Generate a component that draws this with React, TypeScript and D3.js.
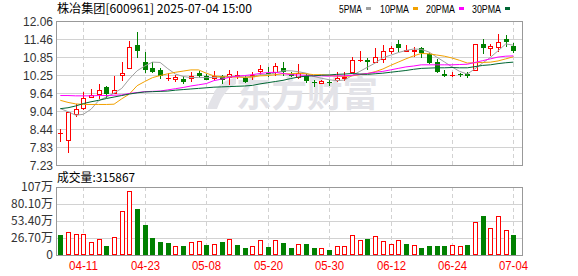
import React from 'react';
import * as d3 from 'd3';

const dates = [
  '04-08','04-09','04-10','04-11','04-14','04-15','04-16','04-17','04-18','04-21',
  '04-22','04-23','04-24','04-25','04-28','04-29','04-30','05-06','05-07','05-08',
  '05-09','05-12','05-13','05-14','05-15','05-16','05-19','05-20','05-21','05-22',
  '05-23','05-26','05-27','05-28','05-29','05-30','06-03','06-04','06-05','06-06',
  '06-09','06-10','06-11','06-12','06-13','06-16','06-17','06-18','06-19','06-20',
  '06-23','06-24','06-25','06-26','06-27','06-30','07-01','07-02','07-03','07-04',
];
const opens = [
  8.30, 8.07, 8.95, 9.15, 9.50, 9.62, 9.83, 9.65, 10.24, 10.50,
  11.26, 10.68, 10.50, 10.42, 10.14, 10.10, 10.13, 10.15, 10.30, 10.23,
  10.16, 10.23, 10.19, 10.23, 10.15, 10.20, 10.37, 10.33, 10.34, 10.50,
  10.28, 10.19, 10.20, 10.02, 9.99, 10.02, 10.07, 10.16, 10.34, 10.74,
  10.75, 10.67, 10.79, 11.04, 11.29, 11.07, 11.07, 11.15, 10.95, 10.68,
  10.29, 10.24, 10.29, 10.27, 10.43, 11.29, 11.14, 11.18, 11.46, 11.23,
];
const highs = [
  8.43, 9.02, 9.26, 9.67, 9.78, 9.95, 9.87, 10.23, 10.70, 11.39,
  11.68, 11.02, 10.67, 10.50, 10.30, 10.26, 10.23, 10.34, 10.37, 10.28,
  10.39, 10.26, 10.43, 10.37, 10.20, 10.35, 10.57, 10.53, 10.66, 10.70,
  10.34, 10.61, 10.28, 10.09, 10.07, 10.09, 10.34, 10.34, 10.86, 11.06,
  10.82, 11.17, 11.26, 11.23, 11.43, 11.26, 11.18, 11.20, 10.99, 10.77,
  10.42, 10.34, 10.32, 10.35, 11.28, 11.46, 11.28, 11.62, 11.59, 11.32,
];
const lows = [
  8.04, 7.67, 8.87, 9.12, 9.50, 9.49, 9.52, 9.63, 10.09, 10.50,
  10.85, 10.35, 10.34, 10.15, 10.08, 10.04, 9.99, 10.04, 10.18, 10.12,
  10.12, 9.99, 9.95, 10.15, 10.00, 10.12, 10.28, 10.23, 10.26, 10.26,
  10.20, 10.15, 10.02, 9.89, 9.98, 9.93, 10.05, 10.09, 10.34, 10.73,
  10.45, 10.67, 10.70, 10.98, 11.06, 11.07, 10.87, 10.84, 10.65, 10.34,
  10.20, 10.20, 10.20, 10.19, 10.43, 10.99, 10.93, 11.06, 11.23, 11.02,
];
const closes = [
  8.30, 9.02, 9.12, 9.49, 9.57, 9.75, 9.64, 9.73, 10.32, 11.18,
  11.09, 10.45, 10.37, 10.24, 10.16, 10.17, 10.04, 10.20, 10.26, 10.13,
  10.20, 10.13, 10.28, 10.25, 10.06, 10.26, 10.45, 10.30, 10.55, 10.37,
  10.26, 10.30, 10.09, 10.00, 10.06, 10.00, 10.15, 10.19, 10.75, 10.75,
  10.73, 10.85, 11.06, 11.15, 11.19, 11.09, 11.10, 11.02, 10.68, 10.37,
  10.25, 10.26, 10.27, 10.25, 11.28, 11.20, 11.22, 11.37, 11.38, 11.09,
];
const prevClose = 8.72;
// volume in 万 (10k lots)
const volumes = [
  31.5, 36.2, 33.0, 33.0, 20.5, 24.7, 14.2, 27.8, 68.7, 100.2,
  72.4, 47.2, 26.7, 20.5, 18.9, 13.6, 14.2, 19.9, 22.0, 15.7,
  17.3, 20.5, 24.7, 15.7, 11.0, 13.6, 23.1, 12.6, 23.1, 18.9,
  11.0, 16.8, 17.3, 11.0, 10.5, 7.9, 13.6, 13.6, 31.0, 23.6,
  25.2, 29.4, 22.0, 17.3, 23.6, 17.3, 15.2, 11.0, 14.2, 14.2,
  14.2, 15.7, 14.2, 15.7, 51.9, 61.4, 42.0, 60.9, 39.3, 31.59,
];
const ma5 = [
  9.12, 9.02, 8.90, 8.93, 9.10, 9.39, 9.51, 9.64, 9.80, 10.12,
  10.39, 10.55, 10.68, 10.67, 10.46, 10.28, 10.20, 10.16, 10.17, 10.16,
  10.17, 10.18, 10.20, 10.20, 10.18, 10.20, 10.26, 10.26, 10.32, 10.39,
  10.39, 10.36, 10.31, 10.20, 10.14, 10.09, 10.06, 10.08, 10.23, 10.37,
  10.51, 10.65, 10.83, 10.91, 11.00, 11.07, 11.12, 11.11, 11.02, 10.85,
  10.69, 10.52, 10.37, 10.28, 10.46, 10.65, 10.84, 11.06, 11.29, 11.25,
];
const ma10 = [
  9.40, 9.33, 9.28, 9.26, 9.26, 9.26, 9.26, 9.27, 9.45, 9.61,
  9.89, 10.03, 10.16, 10.23, 10.29, 10.34, 10.38, 10.42, 10.42, 10.31,
  10.22, 10.19, 10.18, 10.18, 10.17, 10.18, 10.22, 10.23, 10.26, 10.29,
  10.29, 10.31, 10.29, 10.26, 10.26, 10.24, 10.21, 10.20, 10.22, 10.26,
  10.30, 10.36, 10.45, 10.57, 10.68, 10.79, 10.89, 10.97, 10.96, 10.92,
  10.88, 10.82, 10.74, 10.65, 10.66, 10.67, 10.68, 10.72, 10.79, 10.86,
];
const ma20 = [
  9.56, 9.56, 9.55, 9.55, 9.55, 9.56, 9.56, 9.57, 9.58, 9.63,
  9.66, 9.69, 9.70, 9.71, 9.75, 9.79, 9.83, 9.88, 9.92, 9.96,
  10.06, 10.11, 10.17, 10.21, 10.23, 10.26, 10.30, 10.33, 10.34, 10.30,
  10.26, 10.25, 10.24, 10.22, 10.22, 10.21, 10.22, 10.22, 10.24, 10.27,
  10.30, 10.34, 10.37, 10.42, 10.47, 10.52, 10.55, 10.59, 10.59, 10.59,
  10.59, 10.59, 10.60, 10.61, 10.67, 10.73, 10.79, 10.85, 10.88, 10.89,
];
const ma30 = [
  9.12, 9.15, 9.21, 9.29, 9.35, 9.40, 9.46, 9.51, 9.56, 9.61,
  9.65, 9.68, 9.69, 9.70, 9.71, 9.74, 9.76, 9.78, 9.80, 9.82,
  9.84, 9.85, 9.86, 9.87, 9.88, 9.90, 9.95, 9.99, 10.03, 10.07,
  10.13, 10.18, 10.21, 10.22, 10.24, 10.25, 10.27, 10.28, 10.30, 10.28,
  10.27, 10.29, 10.31, 10.34, 10.37, 10.40, 10.44, 10.47, 10.48, 10.49,
  10.49, 10.50, 10.49, 10.49, 10.53, 10.57, 10.59, 10.63, 10.66, 10.68,
];
const priceTicks = ['12.06', '11.46', '10.85', '10.25', '9.64', '9.04', '8.44', '7.83', '7.23'];
const volTickValues = [107, 80.1, 53.4, 26.7, 0];
const volTickLabels = ['107万', '80.10万', '53.40万', '26.70万', '0'];
const dateTicks = ['04-11', '04-23', '05-08', '05-20', '05-30', '06-12', '06-24', '07-04'];
const legendNames = ['5PMA', '10PMA', '20PMA', '30PMA'];
const maSeries = [ma5, ma10, ma20, ma30];
const title = '株冶集团[600961] 2025-07-04 15:00';
const volTitle = '成交量:315867';

const RED = '#ff0000';
const GREEN = '#008000';
const maColors = ['#a0a0a0', '#f2a100', '#ff00ff', '#006633'];
const legendX = [339, 380, 426, 472];
const legendW = [23, 29, 29, 29];

const L = 56, R = 522, PT = 21, PB = 165, VT = 187, VB = 255;
const SANS = '"Liberation Sans", Arial, sans-serif';
const CJK = '"Noto Sans CJK SC", "Noto Sans", sans-serif';

export default function App() {
  const x = d3.scalePoint<string>().domain(dates).range([60.3, 513.4]);
  const y = d3.scaleLinear().domain([7.23, 12.06]).range([PB, PT]);
  const yv = d3.scaleLinear().domain([0, 107]).range([VB, VT]);
  const px = (d: string) => Math.round(x(d) as number);

  const line = (arr: number[]) =>
    d3.line<number>().x((_, i) => x(dates[i]) as number).y((v) => y(v)).curve(d3.curveLinear)(arr) || '';

  const candles = dates.map((d, i) => {
    const o = opens[i], c = closes[i], h = highs[i], l = lows[i];
    const up = c >= o;
    const col = up ? RED : GREEN;
    const cx = px(d);
    const top = Math.round(y(Math.max(o, c)));
    const bot = Math.round(y(Math.min(o, c)));
    const yh = Math.round(y(h)), yl = Math.round(y(l));
    let body;
    if (bot - top < 1) {
      body = <line x1={cx - 2} x2={cx + 3} y1={top + 0.5} y2={top + 0.5} stroke={col} strokeWidth={1} />;
    } else if (up) {
      body = <rect x={cx - 1.5} y={top + 0.5} width={4} height={bot - top} fill="#fff" stroke={col} strokeWidth={1} />;
    } else {
      body = <rect x={cx - 2} y={top} width={5} height={Math.max(1, bot - top + 1)} fill={col} />;
    }
    return (
      <g key={d}>
        <line x1={cx + 0.5} x2={cx + 0.5} y1={yh} y2={yl + 1} stroke={col} strokeWidth={1} />
        {body}
      </g>
    );
  });

  const vbars = dates.map((d, i) => {
    const prev = i === 0 ? prevClose : closes[i - 1];
    const up = closes[i] >= prev;
    const cx = px(d);
    const yt = Math.round(yv(volumes[i]));
    return up ? (
      <rect key={d} x={cx - 1.5} y={yt + 0.5} width={4} height={VB - yt - 1} fill="#fff" stroke={RED} strokeWidth={1} />
    ) : (
      <rect key={d} x={cx - 2} y={yt} width={5} height={VB - yt} fill={GREEN} />
    );
  });

  const gridColor = '#d2d2d2';
  const frameColor = '#999';

  return (
    <svg width={578} height={276} style={{ position: 'fixed', left: 0, top: 0, background: '#fff' }}>
      <rect x={0} y={0} width={578} height={276} fill="#fff" />
      {/* title and legend */}
      <text x={57} y={13} fontFamily={CJK} fontSize={12} fill="#000" textLength={195} lengthAdjust="spacingAndGlyphs">{title}</text>
      {legendNames.map((n, i) => (
        <g key={n}>
          <text x={legendX[i]} y={13} fontFamily={SANS} fontSize={11} fill="#000" textLength={legendW[i]} lengthAdjust="spacingAndGlyphs">{n}</text>
          <rect x={legendX[i] + legendW[i] + 4} y={7} width={5} height={3} fill={maColors[i]} />
        </g>
      ))}

      {/* price grid */}
      {priceTicks.map((t) => {
        const yy = Math.round(y(+t)) + 0.5;
        return (
          <g key={t}>
            <line x1={L} x2={R} y1={yy} y2={yy} stroke={gridColor} />
            <text x={53} y={yy} dy="0.35em" textAnchor="end" fontFamily={SANS} fontSize={12} fill="#333">{t}</text>
          </g>
        );
      })}
      {/* volume grid */}
      {volTickValues.map((v, i) => {
        const yy = Math.round(yv(v)) + 0.5;
        return (
          <g key={v}>
            <line x1={L} x2={R} y1={yy} y2={yy} stroke={gridColor} />
            <text x={53} y={yy - 1} dy="0.35em" textAnchor="end" fontFamily={CJK} fontSize={12} fill="#333">{volTickLabels[i]}</text>
          </g>
        );
      })}
      {/* dashed date lines */}
      {dateTicks.map((d) => {
        const xx = px(d) + 0.5;
        return (
          <g key={d}>
            <line x1={xx} x2={xx} y1={PT} y2={PB} stroke={gridColor} strokeDasharray="4,3" />
            <line x1={xx} x2={xx} y1={VT} y2={VB} stroke={gridColor} strokeDasharray="4,3" />
            <text x={xx} y={270} textAnchor="middle" fontFamily={SANS} fontSize={12} fill={RED} textLength={29} lengthAdjust="spacingAndGlyphs">{d}</text>
          </g>
        );
      })}

      {/* watermark */}
      <g fill="#e3e3e8">
        <path d="M207,109 C212,94 220,82 236,77 L236,84 C227,88 221,98 217,109 Z" />
        <path d="M214,92 C219,84 226,80 232,79 L230,86 C224,88 219,92 214,96 Z" />
        <text x={236} y={107} fontFamily={CJK} fontSize={36} fontWeight={700} textLength={142} lengthAdjust="spacingAndGlyphs">东方财富</text>
      </g>

      {/* frames */}
      <rect x={L + 0.5} y={PT + 0.5} width={R - L} height={PB - PT} fill="none" stroke={frameColor} />
      <rect x={L + 0.5} y={VT + 0.5} width={R - L} height={VB - VT} fill="none" stroke={frameColor} />

      {/* candles */}
      {candles}
      {/* moving averages */}
      {maSeries.map((s, i) => (
        <path key={i} d={line(s)} fill="none" stroke={maColors[i]} strokeWidth={1} />
      ))}

      {/* volume */}
      <text x={57} y={182} fontFamily={CJK} fontSize={12} fill="#000" textLength={78} lengthAdjust="spacingAndGlyphs">{volTitle}</text>
      {vbars}
    </svg>
  );
}
